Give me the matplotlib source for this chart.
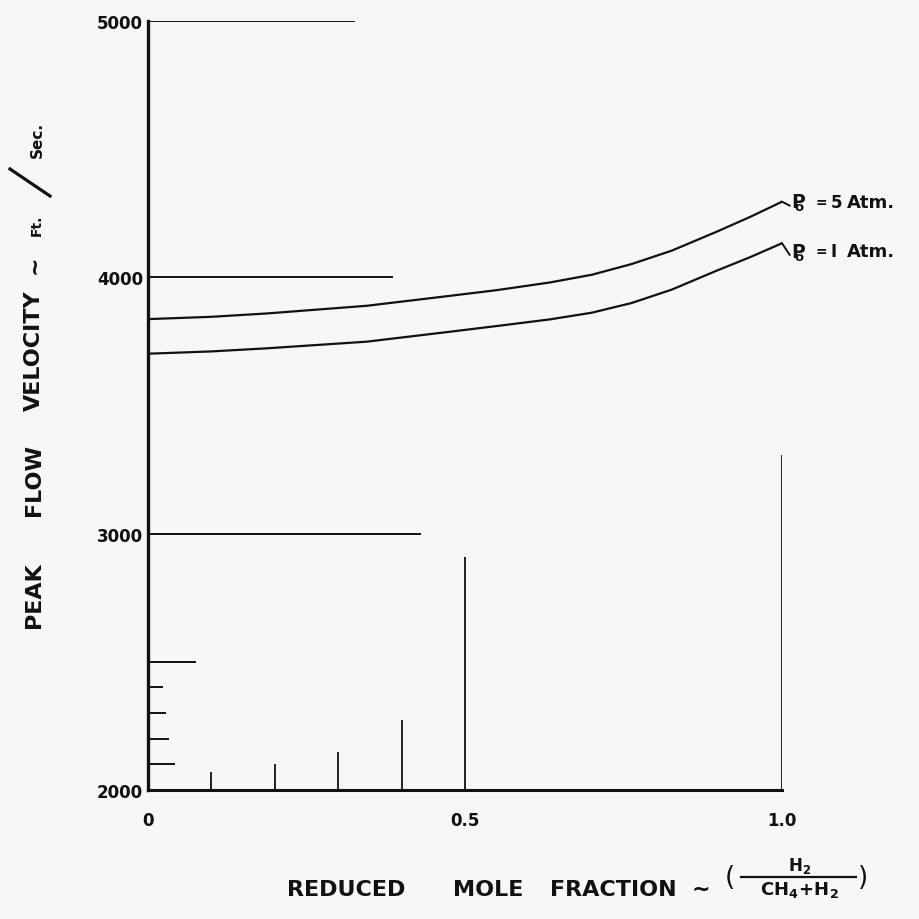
import matplotlib
matplotlib.use("Agg")
import matplotlib.pyplot as plt
from matplotlib.lines import Line2D

# curves
mole_frac = [0, 0.1, 0.187, 0.345, 0.477, 0.55, 0.634, 0.7, 0.763, 0.826, 0.897, 0.95, 1.0]
vel_5atm = [3837, 3846, 3859, 3889, 3928, 3950, 3980, 4010, 4052, 4104, 4178, 4236, 4295]
vel_1atm = [3702, 3711, 3723, 3749, 3788, 3810, 3836, 3862, 3900, 3952, 4026, 4079, 4133]
curve_num = ["5", "I"]
label_y = [4294, 4102]

# leftover grid strokes on the drawing
hline_y = [5000, 4000, 3000, 2500, 2400, 2300, 2200, 2100]
hline_end = [0.327, 0.387, 0.43, 0.076, 0.024, 0.028, 0.033, 0.043]
vline_x = [0.1, 0.2, 0.3, 0.4, 0.5, 1.0]
vline_top = [2071, 2102, 2148, 2275, 2910, 3306]

yticks = [2000, 3000, 4000, 5000]
xticks = [0, 0.5, 1.0]
xtick_labels = ["0", "0.5", "1.0"]

W, H = 919, 920
bg = "#f7f7f5"
ink = "#111111"


def fx(px):
    return px / W


def fy(py):
    return 1 - py / H


fig = plt.figure(figsize=(W / 100, H / 100), dpi=100, facecolor=bg)
ax = fig.add_axes([fx(148), fy(791), (782 - 148) / W, (791 - 22) / H])
ax.set_facecolor(bg)
ax.set_xlim(0, 1.0)
ax.set_ylim(2000, 5000)

for s in ["top", "right"]:
    ax.spines[s].set_visible(False)
ax.spines["left"].set_linewidth(2.4)
ax.spines["bottom"].set_linewidth(2.2)
ax.spines["left"].set_color(ink)
ax.spines["bottom"].set_color(ink)

for y, xe in zip(hline_y, hline_end):
    ax.plot([0, xe], [y, y], color=ink, lw=1.4, solid_capstyle="butt")
for x, yt in zip(vline_x, vline_top):
    ax.plot([x, x], [2000, yt], color=ink, lw=1.3, solid_capstyle="butt")

ax.plot(mole_frac, vel_5atm, color=ink, lw=1.6)
ax.plot(mole_frac, vel_1atm, color=ink, lw=1.6)

# labels at the curve ends (P with a small o set under it)
for vel, num, ly in zip([vel_5atm, vel_1atm], curve_num, label_y):
    ax.plot([1.0, 1.012], [vel[-1], ly - 14], color=ink, lw=1.4, clip_on=False)
    ax.text(1.0135, ly - 24, r"$\mathbf{P}_{\!\!\!\!\!\mathbf{o}}$", fontsize=13.5,
            ha="left", va="baseline", color=ink, clip_on=False)
    ax.text(1.053, ly, "=", fontsize=10, fontweight="bold", ha="left",
            va="center", color=ink, clip_on=False)
    ax.text(1.077, ly, num, fontsize=12, fontweight="bold", ha="left",
            va="center", color=ink, clip_on=False)
    ax.text(1.103, ly, "Atm.", fontsize=13, fontweight="bold", ha="left",
            va="center", color=ink, clip_on=False)

ax.set_yticks(yticks)
ax.set_yticklabels([str(v) for v in yticks], fontsize=12, fontweight="bold", color=ink)
ax.set_xticks(xticks)
ax.set_xticklabels(xtick_labels, fontsize=12, fontweight="bold", color=ink)
ax.tick_params(axis="y", length=0, pad=3.5)
ax.tick_params(axis="x", length=0, pad=15)

# y axis label, word by word
ylab = [("PEAK", 595), ("FLOW", 480), ("VELOCITY", 351), ("~", 265)]
for word, py in ylab:
    fig.text(fx(34), fy(py), word, rotation=90, fontsize=16, fontweight="bold",
             ha="center", va="center", color=ink)
fig.text(fx(37), fy(225), "Ft.", rotation=90, fontsize=10, fontweight="bold",
         ha="center", va="center", color=ink)
fig.text(fx(37), fy(140), "Sec.", rotation=90, fontsize=11, fontweight="bold",
         ha="center", va="center", color=ink)
fig.add_artist(Line2D([fx(10), fx(50)], [fy(170), fy(197)], color=ink, lw=2.3))

# x axis label
xlab = [("REDUCED", 287), ("MOLE", 453), ("FRACTION", 550), ("~", 692)]
for word, px in xlab:
    fig.text(fx(px), fy(890), word, fontsize=16, fontweight="bold", ha="left",
             va="center", color=ink)
fig.text(fx(725), fy(878), "(", fontsize=19, ha="left", va="center", color=ink)
fig.text(fx(858), fy(878), ")", fontsize=19, ha="left", va="center", color=ink)
fig.text(fx(800), fy(866), r"$\mathbf{H_2}$", fontsize=12, ha="center",
         va="center", color=ink)
fig.add_artist(Line2D([fx(741), fx(856)], [fy(878), fy(878)], color=ink, lw=1.6))
fig.text(fx(799), fy(890), r"$\mathbf{CH_4\!+\!H_2}$", fontsize=13, ha="center",
         va="center", color=ink)

fig.savefig("out.png", dpi=100, facecolor=bg)
